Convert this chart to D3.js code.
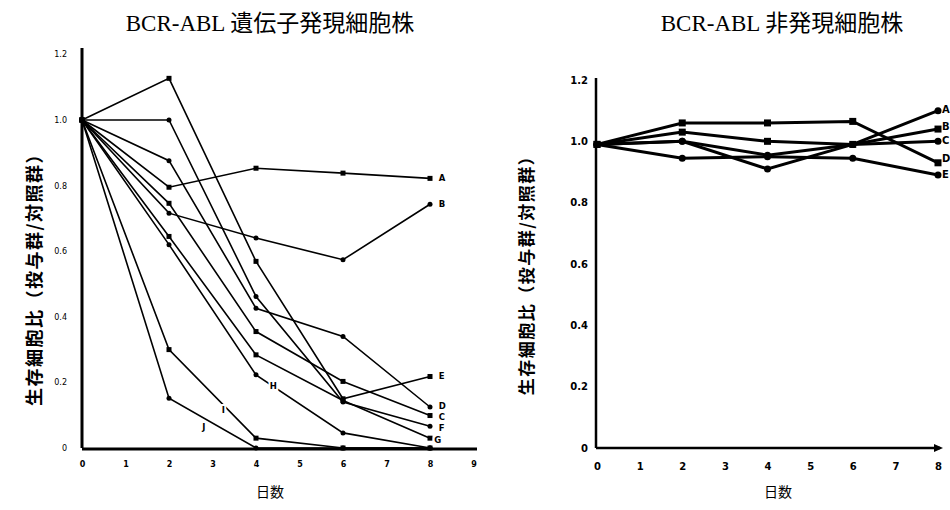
<!DOCTYPE html>
<html><head><meta charset="utf-8">
<script src="https://cdn.jsdelivr.net/npm/d3@7"></script>
<style>body{margin:0;background:#fff}svg{display:block}</style>
</head><body>
<script>
// ---- data ----
const days = [0, 2, 4, 6, 8];
const leftNames = ["A","B","C","D","E","F","G","H","I","J"];
const leftA = [1.0, 0.795, 0.853, 0.838, 0.822];
const leftB = [1.0, 0.716, 0.64, 0.574, 0.743];
const leftC = [1.0, 0.746, 0.355, 0.203, 0.099];
const leftD = [1.0, 0.876, 0.426, 0.34, 0.125];
const leftE = [1.0, 1.127, 0.569, 0.15, 0.218];
const leftF = [1.0, 1.0, 0.462, 0.14, 0.066];
const leftG = [1.0, 0.645, 0.284, 0.145, 0.03];
const leftH = [1.0, 0.62, 0.223, 0.046, 0.0];
const leftI = [1.0, 0.30, 0.03, 0.0, 0.0];
const leftJ = [1.0, 0.152, 0.0, 0.0, 0.0];
const rightNames = ["A","B","C","D","E"];
const rightA = [0.99, 1.0, 0.91, 0.99, 1.10];
const rightB = [0.99, 1.03, 1.0, 0.99, 1.04];
const rightC = [0.99, 1.0, 0.955, 0.99, 1.0];
const rightD = [0.99, 1.06, 1.06, 1.065, 0.93];
const rightE = [0.99, 0.945, 0.95, 0.945, 0.89];
const leftXTicks = ["0","1","2","3","4","5","6","7","8","9"];
const rightXTicks = ["0","1","2","3","4","5","6","7","8"];
const yTicks = [0, 0.2, 0.4, 0.6, 0.8, 1.0, 1.2];
const leftTitle = "BCR-ABL 遺伝子発現細胞株";
const rightTitle = "BCR-ABL 非発現細胞株";
const yLabel = "生存細胞比（投与群/対照群）";
const xLabel = "日数";

const leftSeries = [leftA,leftB,leftC,leftD,leftE,leftF,leftG,leftH,leftI,leftJ];
const rightSeries = [rightA,rightB,rightC,rightD,rightE];

const svg = d3.select("body").append("svg").attr("width",950).attr("height",510);
const serif = "'Liberation Serif','Noto Sans CJK JP',serif";
const cjk = "'Noto Sans CJK JP','Noto Sans',sans-serif";

// titles
svg.append("text").attr("x",270).attr("y",31).attr("text-anchor","middle")
  .attr("font-family",serif).attr("font-size",23).text(leftTitle);
svg.append("text").attr("x",782).attr("y",31).attr("text-anchor","middle")
  .attr("font-family",serif).attr("font-size",23).text(rightTitle);
svg.append("text").attr("x",270).attr("y",497).attr("text-anchor","middle")
  .attr("font-family",cjk).attr("font-size",14).text(xLabel);
svg.append("text").attr("x",778).attr("y",497).attr("text-anchor","middle")
  .attr("font-family",cjk).attr("font-size",14).text(xLabel);
svg.append("text").attr("transform","translate(41,275) rotate(-90)").attr("text-anchor","middle")
  .attr("font-family",cjk).attr("font-size",18).attr("font-weight","bold").attr("letter-spacing",1.5).text(yLabel);
svg.append("text").attr("transform","translate(533,271) rotate(-90)").attr("text-anchor","middle")
  .attr("font-family",cjk).attr("font-size",17).attr("font-weight","bold").attr("letter-spacing",1.5).text(yLabel);

// ---- left chart ----
const xL = d3.scaleLinear().domain([0,9]).range([82,473.5]);
const yL = d3.scaleLinear().domain([0,1.2]).range([448,54.4]);
const gL = svg.append("g");
gL.append("line").attr("x1",xL(0)).attr("x2",xL(0)).attr("y1",yL(0)).attr("y2",48)
  .attr("stroke","#000").attr("stroke-width",3);
gL.append("line").attr("x1",xL(0)).attr("x2",477).attr("y1",yL(0)+1).attr("y2",yL(0)+1)
  .attr("stroke","#000").attr("stroke-width",3);
const axL = d3.axisBottom(xL).tickValues(d3.range(0,10)).tickFormat((d,i)=>leftXTicks[i]).tickSize(0);
gL.append("g").attr("transform",`translate(0,${yL(0)+10})`).call(axL)
  .call(g=>g.select(".domain").remove())
  .selectAll("text").attr("font-family","'DejaVu Sans'").attr("font-size",8).attr("font-weight","bold");
const ayL = d3.axisLeft(yL).tickValues(yTicks).tickFormat(d=>d===0?"0":d3.format(".1f")(d)).tickSize(0);
gL.append("g").attr("transform",`translate(${xL(0)-12},0)`).call(ayL)
  .call(g=>g.select(".domain").remove())
  .selectAll("text").attr("font-family","'DejaVu Sans'").attr("font-size",8);
const lineL = d3.line().x((d,i)=>xL(days[i])).y(d=>yL(d));
leftSeries.forEach((s,k)=>{
  gL.append("path").attr("d",lineL(s)).attr("fill","none").attr("stroke","#000").attr("stroke-width",1.6);
  s.forEach((v,i)=>{
    if(k%2===0){
      gL.append("rect").attr("x",xL(days[i])-2.5).attr("y",yL(v)-2.5).attr("width",5).attr("height",5).attr("fill","#000");
    } else {
      gL.append("circle").attr("cx",xL(days[i])).attr("cy",yL(v)).attr("r",2.5).attr("fill","#000");
    }
  });
});
// series labels
const leftLabelPos = [
  [8.2,0.822],[8.2,0.745],[8.2,0.094],[8.2,0.128],[8.2,0.22],[8.2,0.062],[8.1,0.024],[4.4,0.19],[3.25,0.115],[2.8,0.065]
];
leftNames.forEach((n,k)=>{
  gL.append("text").attr("x",xL(leftLabelPos[k][0])).attr("y",yL(leftLabelPos[k][1])+3)
    .attr("font-family","'DejaVu Sans'").attr("font-size",8.5).attr("font-weight","bold")
    .attr("stroke","#fff").attr("stroke-width",4).attr("paint-order","stroke")
    .attr("text-anchor", leftLabelPos[k][0]<8 ? "middle":"start").text(n);
});

// ---- right chart ----
const xR = d3.scaleLinear().domain([0,8]).range([597,938]);
const yR = d3.scaleLinear().domain([0,1.2]).range([448,80]);
const gR = svg.append("g");
gR.append("line").attr("x1",xR(0)-1).attr("x2",xR(0)-1).attr("y1",yR(0)).attr("y2",yR(1.2)-2)
  .attr("stroke","#000").attr("stroke-width",2.5);
gR.append("line").attr("x1",xR(0)-1).attr("x2",940).attr("y1",yR(0)).attr("y2",yR(0))
  .attr("stroke","#000").attr("stroke-width",2.5);
gR.append("path").attr("d",`M934,${yR(0)-4}L943,${yR(0)}L934,${yR(0)+4}Z`).attr("fill","#000");
const axR = d3.axisBottom(xR).tickValues(d3.range(0,9)).tickFormat((d,i)=>rightXTicks[i]).tickSize(0);
gR.append("g").attr("transform",`translate(0,${yR(0)+12})`).call(axR)
  .call(g=>g.select(".domain").remove())
  .selectAll("text").attr("font-family","'DejaVu Sans'").attr("font-size",10).attr("font-weight","bold");
const ayR = d3.axisLeft(yR).tickValues(yTicks).tickFormat(d=>d===0?"0":d3.format(".1f")(d)).tickSize(0);
gR.append("g").attr("transform",`translate(${xR(0)-6},0)`).call(ayR)
  .call(g=>g.select(".domain").remove())
  .selectAll("text").attr("font-family","'DejaVu Sans'").attr("font-size",10).attr("font-weight","bold");
const lineR = d3.line().x((d,i)=>xR(days[i])).y(d=>yR(d));
rightSeries.forEach((s,k)=>{
  gR.append("path").attr("d",lineR(s)).attr("fill","none").attr("stroke","#000").attr("stroke-width",3);
  s.forEach((v,i)=>{
    if(k%2===1){
      gR.append("rect").attr("x",xR(days[i])-3.5).attr("y",yR(v)-3.5).attr("width",7).attr("height",7).attr("fill","#000");
    } else {
      gR.append("circle").attr("cx",xR(days[i])).attr("cy",yR(v)).attr("r",3.5).attr("fill","#000");
    }
  });
});
const rightLabelY = [1.105, 1.05, 1.005, 0.945, 0.895];
rightNames.forEach((n,k)=>{
  gR.append("text").attr("x",xR(8)+4).attr("y",yR(rightLabelY[k])+4)
    .attr("font-family","'DejaVu Sans'").attr("font-size",10).attr("font-weight","bold").text(n);
});
</script>
</body></html>
